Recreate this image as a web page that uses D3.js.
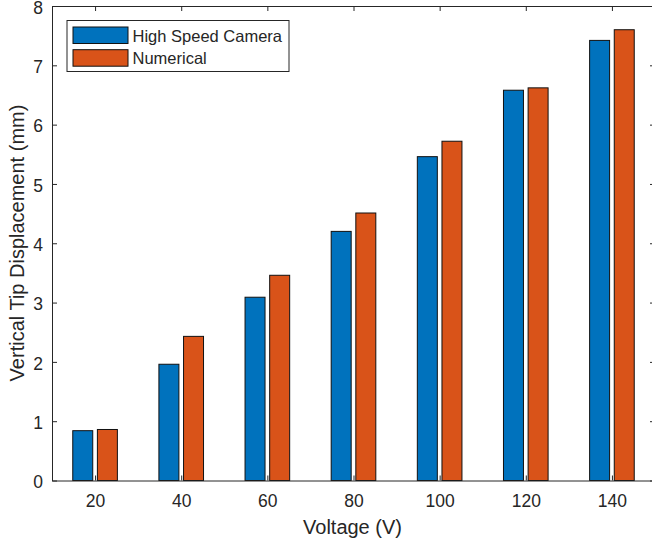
<!DOCTYPE html>
<html>
<head>
<meta charset="utf-8">
<script src="https://cdn.jsdelivr.net/npm/d3@7"></script>
<style>
  body { margin: 0; background: #fff; }
  text { font-family: "Liberation Sans", Arial, sans-serif; fill: #262626; }
</style>
</head>
<body>
<svg id="chart" width="652" height="542"></svg>
<script>
// data
const voltages = [20, 40, 60, 80, 100, 120, 140];
const camera = [0.84, 1.96, 3.09, 4.20, 5.46, 6.58, 7.42];
const numerical = [0.86, 2.43, 3.46, 4.51, 5.72, 6.62, 7.60];
const seriesNames = ['High Speed Camera', 'Numerical'];
const seriesColors = ['#0072BD', '#D95319'];
const yTicks = [0, 1, 2, 3, 4, 5, 6, 7, 8];

const svg = d3.select('#chart');
const plotLeft = 52, plotRight = 655, plotTop = 6, plotBottom = 480.5;

const x = d3.scaleLinear().domain([10, 150]).range([plotLeft, plotRight]);
const y = d3.scaleLinear().domain([0, 8]).range([plotBottom, plotTop]);

// bar geometry in data units
const barW = 4.64, offset = 2.86;

const series = [camera, numerical];
series.forEach((vals, s) => {
  svg.append('g').selectAll('rect')
    .data(vals)
    .enter()
    .append('rect')
      .attr('x', (d, i) => x(voltages[i] + (s == 0 ? -offset : offset) - barW / 2))
      .attr('width', x(barW) - x(0))
      .attr('y', d => y(d))
      .attr('height', d => y(0) - y(d))
      .attr('fill', seriesColors[s])
      .attr('stroke', '#111')
      .attr('stroke-width', 1);
});

// axes (ticks point inward like matlab)
const axisColor = '#262626';
const xAxis = svg.append('g')
  .attr('transform', `translate(0,${plotBottom})`)
  .call(d3.axisBottom(x).tickValues(voltages).tickSizeInner(-5).tickSizeOuter(0).tickPadding(14.5));
const yAxis = svg.append('g')
  .attr('transform', `translate(${plotLeft},0)`)
  .call(d3.axisLeft(y).tickValues(yTicks).tickSizeInner(-5).tickSizeOuter(0).tickPadding(9));
const xTop = svg.append('g')
  .attr('transform', `translate(0,${plotTop})`)
  .call(d3.axisTop(x).tickValues(voltages).tickSizeInner(-5).tickSizeOuter(0).tickFormat(''));
const yRight = svg.append('g')
  .attr('transform', `translate(${plotRight},0)`)
  .call(d3.axisRight(y).tickValues(yTicks).tickSizeInner(-5).tickSizeOuter(0).tickFormat(''));

[xAxis, yAxis, xTop, yRight].forEach(g => {
  g.select('.domain').attr('stroke', axisColor).attr('stroke-width', 1);
  g.selectAll('.tick line').attr('stroke', axisColor).attr('stroke-width', 1);
  g.selectAll('.tick text').style('font-size', '17.5px').attr('fill', axisColor);
});
yAxis.selectAll('.tick text').attr('dy', '0.42em');

// axis labels
svg.append('text')
  .attr('x', 352.5).attr('y', 533.5)
  .attr('text-anchor', 'middle')
  .style('font-size', '20px')
  .text('Voltage (V)');
svg.append('text')
  .attr('transform', 'translate(23.5,243) rotate(-90)')
  .attr('text-anchor', 'middle')
  .style('font-size', '20px')
  .text('Vertical Tip Displacement (mm)');

// legend
const legend = svg.append('g');
legend.append('rect')
  .attr('x', 67).attr('y', 20.5).attr('width', 222).attr('height', 51)
  .attr('fill', '#fff').attr('stroke', axisColor).attr('stroke-width', 1);
seriesNames.forEach((name, i) => {
  legend.append('rect')
    .attr('x', 73).attr('y', 27 + i * 22.7).attr('width', 55).attr('height', 16.5)
    .attr('fill', seriesColors[i]).attr('stroke', '#111');
  legend.append('text')
    .attr('x', 132.5).attr('y', 41.5 + i * 22.7)
    .style('font-size', '16.5px')
    .attr('fill', '#000')
    .text(name);
});
</script>
</body>
</html>
